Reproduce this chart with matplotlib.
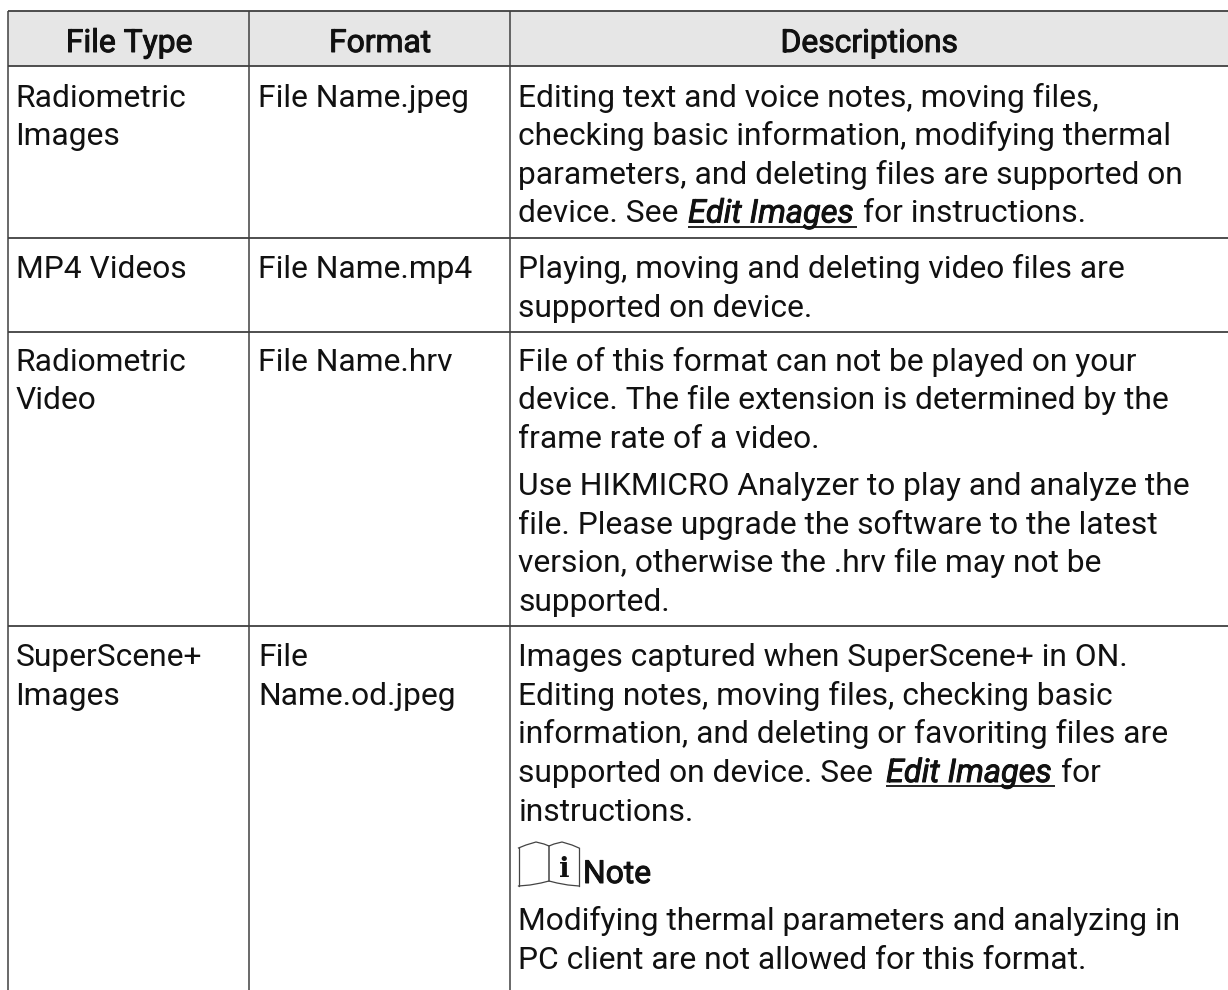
import matplotlib
matplotlib.use("Agg")
import matplotlib.pyplot as plt
import matplotlib.patheffects as pe
from matplotlib.patches import Rectangle

plt.rcParams['font.family'] = ['Roboto', 'DejaVu Sans']

# Table contents
headers = ["File Type", "Format", "Descriptions"]
file_types = [["Radiometric", "Images"], ["MP4 Videos"], ["Radiometric", "Video"], ["SuperScene+", "Images"]]
formats = [["File Name.jpeg"], ["File Name.mp4"], ["File Name.hrv"], ["File", "Name.od.jpeg"]]
desc_row1 = ["Editing text and voice notes, moving files,",
             "checking basic information, modifying thermal",
             "parameters, and deleting files are supported on"]
desc_row2 = ["Playing, moving and deleting video files are",
             "supported on device."]
desc_row3a = ["File of this format can not be played on your",
              "device. The file extension is determined by the",
              "frame rate of a video."]
desc_row3b = ["Use HIKMICRO Analyzer to play and analyze the",
              "file. Please upgrade the software to the latest",
              "version, otherwise the .hrv file may not be",
              "supported."]
desc_row4 = ["Images captured when SuperScene+ in ON.",
             "Editing notes, moving files, checking basic",
             "information, and deleting or favoriting files are"]
note_text = ["Modifying thermal parameters and analyzing in",
             "PC client are not allowed for this format."]

W, H = 1228, 990
col_x = [7.5, 249, 509.5]
row_y = [11, 66, 238, 332, 625.5]
line_color = "#404040"
fs = 22.9
pitch = 38.7
text_color = "#111111"

fig = plt.figure(figsize=(W / 100, H / 100), dpi=100)
ax = fig.add_axes([0, 0, 1, 1])
ax.set_xlim(0, W)
ax.set_ylim(H, 0)
ax.axis("off")

# Header band and grid
ax.add_patch(Rectangle((col_x[0], row_y[0]), W - col_x[0], row_y[1] - row_y[0], color="#e6e6e6", lw=0))
for y in row_y:
    ax.plot([col_x[0], W], [y, y], color=line_color, lw=1.3, solid_capstyle="butt")
for x in col_x:
    ax.plot([x, x], [row_y[0], H], color=line_color, lw=1.1, solid_capstyle="butt")


def put(x, y, s, ha="left", **kw):
    return ax.text(x, y, s, fontsize=kw.pop("fontsize", fs), color=text_color, va="baseline", ha=ha, **kw)


def put_lines(x, y, lines):
    for i, s in enumerate(lines):
        put(x, y + i * pitch, s)


def put_heavy(x, y, s, ha="left", **kw):
    # Roboto medium is not picked up by name, so thicken the regular face a little
    t = put(x, y, s, ha=ha, **kw)
    t.set_path_effects([pe.withStroke(linewidth=0.7, foreground=text_color)])
    return t


def put_link(x, y, x_end):
    put_heavy(x, y, "Edit Images", fontstyle="italic", fontsize=23.4)
    ax.plot([x, x_end], [y + 4, y + 4], color=text_color, lw=1.3, solid_capstyle="butt")


# Header
put_heavy(129, 52, headers[0], ha="center")
put_heavy(380, 52, headers[1], ha="center")
put_heavy(869, 52, headers[2], ha="center")

# First two columns
first_base = [106.7, 278, 370.6, 666]
for base, ft, fm in zip(first_base, file_types, formats):
    put_lines(15.5, base, ft)
    put_lines(258.5, base, fm)

# Descriptions
put_lines(518.5, 106.7, desc_row1)
put(518.5, 222.5, "device. See")
put_link(688, 222.5, 857)
put(863, 222.5, "for instructions.")
put_lines(518.5, 278, desc_row2)
put_lines(518.5, 370.6, desc_row3a)
put_lines(518.5, 495, desc_row3b)
put_lines(518.5, 666, desc_row4)
put(518.5, 782, "supported on device. See")
put_link(886, 782, 1055)
put(1061, 782, "for")
put(518.5, 820.7, "instructions.")

# Note icon
ink = "#444444"
ax.plot([518.5, 526, 536, 544, 549, 554, 562, 572, 579],
        [848, 845, 842, 844, 846, 844, 842, 845, 848], color=ink, lw=0.9)
ax.plot([518.5, 530, 541, 549, 557, 568, 579],
        [886, 885, 883, 881, 883, 885, 886], color=ink, lw=0.9)
ax.plot([518.5, 518.5], [848, 886], color=ink, lw=0.9)
ax.plot([579, 579], [848, 886], color=ink, lw=0.9)
ax.plot([549, 549], [846, 881], color=ink, lw=1.1)
ax.text(564.5, 877, "i", fontsize=20, fontweight="bold", family="DejaVu Serif",
        ha="center", va="baseline", color=text_color)
put_heavy(583, 883, "Note")
put_lines(518.5, 930, note_text)

fig.savefig("out.png", dpi=100)
